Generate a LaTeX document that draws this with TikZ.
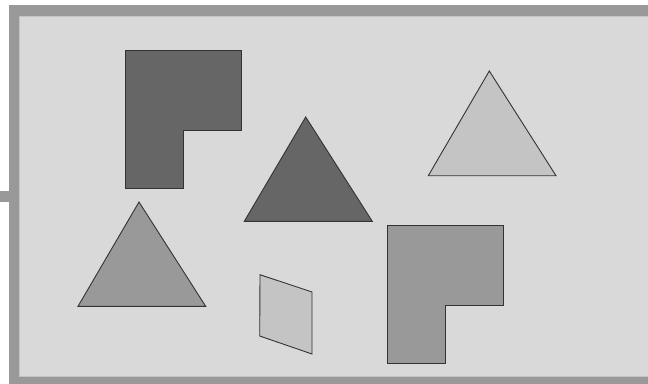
\documentclass[tikz,border=0pt]{standalone}
\definecolor{framegray}{HTML}{999999}
\definecolor{bggray}{HTML}{D9D9D9}
\definecolor{edgegray}{HTML}{C4C4C4}
\definecolor{darkfill}{HTML}{666666}
\definecolor{midfill}{HTML}{999999}
\definecolor{lightfill}{HTML}{C4C4C4}
\definecolor{outline}{HTML}{333333}
\tikzset{
  shapeline/.style={draw=outline, line width=0.9pt, line join=miter},
}
\begin{document}
\begin{tikzpicture}[x=1pt,y=-1pt]
\useasboundingbox (0,0) rectangle (648,383);
% frame
\fill[white] (0,0) rectangle (648,383);
\fill[framegray] (8.5,5) rectangle (660,395);
\fill[framegray] (0,191) rectangle (9,202);
\fill[bggray] (19,16) rectangle (660,376.5);
\draw[edgegray, line width=0.8pt] (660,16) -- (19,16) -- (19,376.5) -- (660,376.5);
% dark L shape
\filldraw[shapeline, fill=darkfill] (125,50) -- (241.3,50) -- (241.3,130.7) -- (183.7,130.7) -- (183.7,188.3) -- (125,188.3) -- cycle;
% medium L shape
\filldraw[shapeline, fill=midfill] (387.3,225.7) -- (503.3,225.7) -- (503.3,305.7) -- (445.7,305.7) -- (445.7,363) -- (387.3,363) -- cycle;
% dark triangle
\filldraw[shapeline, fill=darkfill] (305.7,117) -- (372.3,221.3) -- (244.3,221.3) -- cycle;
% light triangle
\filldraw[shapeline, fill=lightfill] (489.3,71) -- (556,175.7) -- (428.3,175.7) -- cycle;
% medium triangle
\filldraw[shapeline, fill=midfill] (139,202) -- (205.7,306.3) -- (78,306.3) -- cycle;
% parallelogram
\filldraw[shapeline, fill=lightfill] (260,274.7) -- (312,292) -- (312,354) -- (259.7,336) -- cycle;
\end{tikzpicture}
\end{document}
